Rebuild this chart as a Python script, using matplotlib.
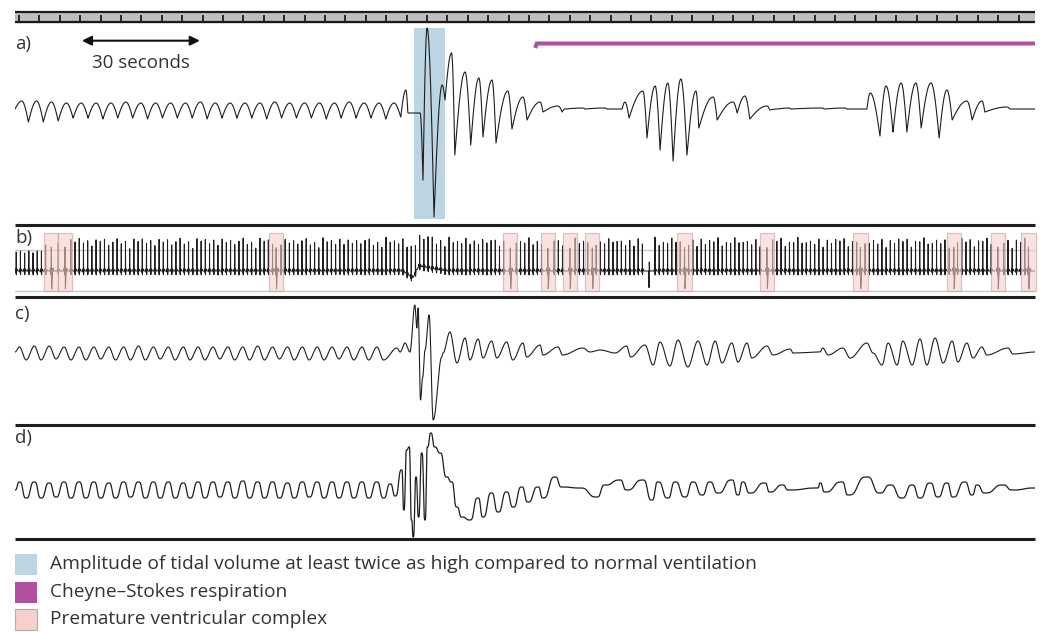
import numpy as np
import matplotlib
matplotlib.use('Agg')
import matplotlib.pyplot as plt
from matplotlib.patches import Rectangle

plt.rcParams['font.family'] = ['Open Sans', 'DejaVu Sans']

W, H = 1044, 632
T_END = 250.0          # seconds shown
TICK_START, TICK_STEP = 1, 5

# ---------------- data ----------------
# normal breathing before the event (per breath: peak / trough, arbitrary units)
breath_period = 3.65
a_pre_peak = [8, 8, 7, 6, 6, 6, 6, 7, 6, 6, 6, 6, 7, 6, 6, 6, 6, 7, 6, 6, 6, 6, 7, 6, 6, 6]
a_pre_trough = [-13, -13, -12, -9, -9, -10, -9, -9, -10, -9, -9, -9, -10, -9, -9, -9,
                -10, -9, -9, -9, -10, -9, -9, -9, -10, -8]
c_pre_peak = [5, 6, 6, 5, 5, 5, 5, 5, 6, 5, 5, 5, 5, 5, 5, 5, 6, 5, 5, 5, 5, 5, 5, 5, 5]
c_pre_trough = [-8, -8, -7, -8, -8, -7, -8, -8, -8, -7, -8, -8, -8, -7, -8, -8, -8, -7,
                -8, -8, -8, -7, -8, -8, -8]
d_pre_peak = [8, 8, 7, 8, 8, 8, 7, 8, 8, 8, 8, 7, 8, 8, 8, 9, 8, 8, 7, 8, 8, 8, 8, 8, 8]
d_pre_trough = [-8, -8, -7, -8, -8, -8, -8, -7, -8, -8, -8, -8, -8, -7, -8, -8, -8, -8,
                -8, -7, -8, -8, -8, -8, -8]

# a) event and Cheyne-Stokes part: extrema (time s, amplitude)
a_evt_t = [95.8, 96.3, 99.3, 100.0, 101.0, 102.7, 104.7, 105.4, 107.0, 107.8, 110.3, 111.7,
           113.7, 114.7, 116.9, 117.9, 120.8, 121.8, 124.5, 125.5, 128.7, 129.4, 133.1, 134.1,
           134.8, 139.2, 139.7, 144.6, 145.1, 148.8, 149.5, 150.5, 153.9, 154.9, 156.9, 158.1,
           160.0, 161.3, 163.2, 164.7, 166.9, 167.6, 171.1, 172.1, 176.0, 177.0, 178.9, 180.1,
           184.3, 185.0, 186.8, 189.7, 190.2, 197.8, 198.3, 203.4, 203.9, 208.8, 209.6, 212.0,
           213.5, 215.2, 217.2, 218.6, 220.8, 222.1, 224.5, 226.5, 228.4, 229.7, 233.3, 234.6,
           237.0, 237.7, 243.1, 243.9, 250.0]
a_evt_y = [19, -4, -4, -71, 81, -108, 24, 9, 56, -46, 37, -36,
           31, -28, 29, -34, 18, -20, 12, -11, 7, -3, 3, -3,
           0, 1, 0, 1, 0, 0, 7, -9, 18, -29, 23, -41,
           26, -52, 30, -46, 18, -19, 12, -11, 7, -4, 13, -10,
           3, -1, 0, 1, 0, 1, 0, 1, 0, 0, 16, -27,
           23, -23, 26, -23, 26, -19, 26, -29, 19, -11, 8, -11,
           8, -3, 2, 0, 0]

# c) event part
c_evt_t = [93.6, 94.4, 95.6, 96.8, 98.0, 98.5, 98.8, 99.4, 99.9, 100.5, 101.5, 102.5, 104.6,
           104.9, 106.6, 108.3, 110.3, 111.5, 113.5, 114.7, 116.8, 118.1, 120.5, 122.0, 124.5,
           125.4, 128.7, 129.4, 133.1, 134.2, 139.2, 140.9, 143.4, 147.1, 149.9, 150.9, 154.4,
           156.4, 158.1, 160.5, 162.5, 164.9, 167.4, 169.6, 171.6, 173.3, 175.7, 177.2, 179.4,
           180.6, 184.3, 185.8, 190.0, 190.7, 197.3, 198.0, 199.3, 202.9, 204.7, 208.8, 210.3,
           212.5, 214.0, 216.2, 217.6, 219.9, 221.8, 223.5, 225.5, 227.5, 229.7, 231.1, 233.3,
           234.8, 237.0, 238.2, 243.4, 244.6, 250.0]
c_evt_y = [4, 0, 9, 0, 47, 24, 44, -48, -26, 2, 37, -68, -5,
           -1, 20, -11, 14, -8, 13, -6, 11, -6, 10, -8, 9,
           -5, 7, -3, 5, -3, 4, 0, 2, -1, 6, -5, 7,
           -13, 10, -14, 12, -15, 11, -13, 11, -11, 9, -10, 9,
           -6, 6, -3, 3, -1, 0, 4, -3, 4, -6, 9, -1,
           -13, 9, -13, 11, -13, 13, -13, 14, -11, 11, -10, 9,
           -6, 5, -3, 4, -2, 0]

# d) event part
d_evt_t = [92.0, 93.2, 94.8, 95.3, 96.0, 96.6, 97.2, 97.6, 98.3, 98.9, 99.7, 100.5, 101.1,
           101.9, 102.9, 104.2, 105.8, 107.0, 108.3, 109.5, 111.5, 113.5, 114.7, 116.8, 118.4,
           120.5, 122.1, 124.2, 125.7, 128.2, 129.4, 132.4, 134.0, 138.5, 142.6, 144.6, 148.3,
           149.9, 153.9, 156.1, 157.6, 160.0, 161.8, 164.2, 166.2, 168.4, 170.3, 172.3, 175.7,
           177.2, 178.4, 180.1, 183.8, 185.0, 188.2, 189.5, 196.8, 197.3, 198.5, 202.7, 204.2,
           208.8, 212.0, 214.5, 217.4, 219.9, 221.8, 224.3, 226.2, 228.4, 229.9, 232.8, 234.6,
           235.8, 237.7, 242.2, 244.4, 250.0]
d_evt_y = [6, -6, 20, -20, 40, 43, -30, -47, 13, -27, 37, -30, 43,
           57, 43, 37, 13, 8, -17, -27, -30, -8, -27, -3, -22,
           -2, -17, 3, -12, 3, -8, 13, 3, 2, -7, 5, 10,
           0, 10, -10, 8, -8, 8, -7, 8, -5, 8, -3, 10,
           -5, 8, -3, 7, -2, 5, 0, 2, 7, -2, 8, -5,
           13, -3, 5, -8, 5, -8, 7, -7, 7, -7, 8, -5,
           5, -3, 5, 0, 2]

# b) ECG
rr_interval = 1.03
ecg_r_amp_start = [19, 21, 20, 22, 19, 20, 21]          # first, lower beats
ecg_r_amp = [33, 30, 34, 27, 32, 30, 34, 29, 31, 33, 28, 32, 25, 34, 30]
pvc_centers = [8.9, 12.25, 64.0, 121.4, 130.6, 136.0, 141.5, 164.1, 184.3, 207.2, 230.1,
               240.9, 248.4]
pvc_width = 3.5
ecg_artifact_t = [155.4]
ecg_base_t = [0, 95.0, 97.5, 99.0, 103.0, 106.0, 250.0]
ecg_base_y = [0, 0, -7, 5, 2, 0, 0]

# annotations
high_tv_span = (97.8, 105.4)
csr_start = 127.5
scale_bar = (16.4, 45.3)

legend_labels = ["Amplitude of tidal volume at least twice as high compared to normal ventilation",
                 "Cheyne\u2013Stokes respiration",
                 "Premature ventricular complex"]
panel_labels = ["a)", "b)", "c)", "d)"]

C_BLUE = '#bdd5e3'
C_MAG = '#b0509e'
C_PINK = '#f5d0cc'
C_PINK_EDGE = '#c9a19d'
C_TRACE = '#1e1e1e'
C_TEXT = '#333333'


# ---------------- helpers ----------------
def pre_knots(peaks, troughs, period, f_peak, f_trough):
    tk, yk = [0.0], [0.0]
    for i, (p, q) in enumerate(zip(peaks, troughs)):
        tk += [(i + f_peak) * period, (i + f_trough) * period]
        yk += [p, q]
    return tk, yk


def render(tk, yk, style='smooth', n=16):
    xs, ys = [], []
    for i in range(len(tk) - 1):
        s = np.linspace(0, 1, n, endpoint=False)
        y0, y1 = yk[i], yk[i + 1]
        if style == 'sharp':
            e = (1 - np.cos(np.pi / 2 * s)) if y1 < y0 else np.sin(np.pi / 2 * s)
        elif style == 'square':
            e = (1 - np.cos(np.pi * s)) / 2
            e = (1 - np.cos(np.pi * e)) / 2
        else:
            e = (1 - np.cos(np.pi * s)) / 2
        xs.append(tk[i] + (tk[i + 1] - tk[i]) * s)
        ys.append(y0 + (y1 - y0) * e)
    xs.append([tk[-1]])
    ys.append([yk[-1]])
    return np.concatenate(xs), np.concatenate(ys)


fig = plt.figure(figsize=(W / 100, H / 100), dpi=100)


def add_panel(ytop, ybot, ylim):
    ax = fig.add_axes([15 / W, 1 - ybot / H, 1020 / W, (ybot - ytop) / H])
    ax.set_xlim(0, T_END)
    ax.set_ylim(*ylim)
    ax.axis('off')
    return ax


# ---- top time bar ----
axbar = add_panel(10, 24, (24, 10))
axbar.axhspan(12.2, 21.7, color='#bebebe', zorder=1)
axbar.axhline(12.2, color='#1a1a1a', lw=1.6, zorder=3)
axbar.axhline(21.7, color='#1a1a1a', lw=1.6, zorder=3)
ticks = np.arange(TICK_START, T_END, TICK_STEP)
axbar.vlines(ticks, 15.2, 21.7, color='#1a1a1a', lw=1.3, zorder=2)

# ---- panel a ----
axa = add_panel(22, 223, (-114, 87))
tk, yk = pre_knots(a_pre_peak, a_pre_trough, breath_period, 0.45, 0.9)
x, y = render(tk + a_evt_t, yk + a_evt_y, style='sharp')
axa.axvspan(high_tv_span[0], high_tv_span[1], ymin=(-110 + 114) / 201, ymax=(81 + 114) / 201,
            color=C_BLUE, lw=0, zorder=1)
axa.plot(x, y, color=C_TRACE, lw=0.8, zorder=3)
axa.plot([csr_start, csr_start + 0.4, T_END], [61, 65.5, 65.5], color=C_MAG, lw=2.9,
         solid_joinstyle='miter', solid_capstyle='butt', clip_on=False, zorder=4)
axa.annotate('', xy=(scale_bar[1], 68.3), xytext=(scale_bar[0], 68.3),
             arrowprops=dict(arrowstyle='<|-|>', color='#111111', lw=1.5,
                             mutation_scale=14, shrinkA=0, shrinkB=0))
axa.text((scale_bar[0] + scale_bar[1]) / 2, 46, '30 seconds', ha='center', va='center',
         fontsize=13.5, color=C_TEXT)

# ---- panel b (ECG) ----
axb = add_panel(226, 296, (-25, 45))
axb.axhline(21.5, color='#c8c8c8', lw=1.0, zorder=1)
axb.axhline(-20, color='#c8c8c8', lw=1.0, zorder=1)
normal_tpl_t = [-0.22, -0.16, -0.1, -0.03, 0.0, 0.03, 0.08, 0.2, 0.3, 0.4]
normal_tpl_y = [0, 2, 0, -2, 1, -4, 0, 2, 1, 0]
pvc_tpl_t = [-0.4, -0.2, -0.08, 0.0, 0.1, 0.22, 0.4, 0.6]
pvc_tpl_y = [0, 3, -4, 24, -18, -7, 3, 0]
art_tpl_t = [-0.1, 0.0, 0.06, 0.14]
art_tpl_y = [0, -17, 9, 0]

ek_t, ek_y = [], []
beat_t = np.arange(0.3, T_END - 0.5, rr_interval)
events = sorted([(c, 'pvc') for c in pvc_centers] + [(c, 'art') for c in ecg_artifact_t])
all_beats = []
for i, bt in enumerate(beat_t):
    if any(abs(bt - c) < 0.85 for c, _ in events):
        continue
    amp = ecg_r_amp_start[i] if i < len(ecg_r_amp_start) else ecg_r_amp[i % len(ecg_r_amp)]
    all_beats.append((bt, 'n', amp))
for c, kind in events:
    all_beats.append((c, kind, 0))
all_beats.sort()
for bt, kind, amp in all_beats:
    if kind == 'n':
        tt = normal_tpl_t
        yy = list(normal_tpl_y)
        yy[4] = amp
    elif kind == 'pvc':
        tt, yy = pvc_tpl_t, pvc_tpl_y
    else:
        tt, yy = art_tpl_t, art_tpl_y
    for a_, b_ in zip(tt, yy):
        ek_t.append(bt + a_)
        ek_y.append(b_)
ek_t = np.array(ek_t)
ek_y = np.array(ek_y)
order = np.argsort(ek_t, kind='stable')
tg = np.linspace(0, T_END, 40000)
eg = np.interp(tg, ek_t[order], ek_y[order]) + np.interp(tg, ecg_base_t, ecg_base_y)
axb.plot(tg, eg, color=C_TRACE, lw=0.75, zorder=2)
for c in pvc_centers:
    axb.add_patch(Rectangle((c - pvc_width / 2, -19.7), pvc_width, 58.0, facecolor=C_PINK,
                            edgecolor=C_PINK_EDGE, lw=0.9, alpha=0.6, zorder=3, clip_on=False))

# ---- panel c ----
axc = add_panel(298, 424, (-72, 54))
tk, yk = pre_knots(c_pre_peak, c_pre_trough, breath_period, 0.3, 0.75)
x, y = render(tk + c_evt_t, yk + c_evt_y)
axc.plot(x, y, color=C_TRACE, lw=0.8)

# ---- panel d ----
axd = add_panel(426, 538, (-48, 64))
tk, yk = pre_knots(d_pre_peak, d_pre_trough, breath_period, 0.3, 0.75)
x, y = render(tk + d_evt_t, yk + d_evt_y, style='square')
axd.plot(x, y, color=C_TRACE, lw=0.9)

# ---- overlay: separators, labels, legend ----
ov = fig.add_axes([0, 0, 1, 1])
ov.set_xlim(0, W)
ov.set_ylim(H, 0)
ov.axis('off')
ov.patch.set_alpha(0)
for ysep in [224.8, 297.2, 425.2, 538.7]:
    ov.plot([15, 1035], [ysep, ysep], color='#1e1e1e', lw=2.2, solid_capstyle='butt')
for lab, yc in zip(panel_labels, [44.0, 237.5, 314.5, 438.5]):
    ov.text(15, yc, lab, ha='left', va='center', fontsize=13.5, color=C_TEXT)

leg_y = [553.5, 581.7, 609.0]
leg_colors = [C_BLUE, C_MAG, C_PINK]
for lab, y0, col in zip(legend_labels, leg_y, leg_colors):
    ec = '#b9aaa8' if col == C_PINK else 'none'
    ov.add_patch(Rectangle((15, y0), 21.7, 21, facecolor=col, edgecolor=ec, lw=0.8))
    ov.text(50, y0 + 10.5, lab, ha='left', va='center', fontsize=13.8, color=C_TEXT)

fig.savefig('out.png', dpi=100)
